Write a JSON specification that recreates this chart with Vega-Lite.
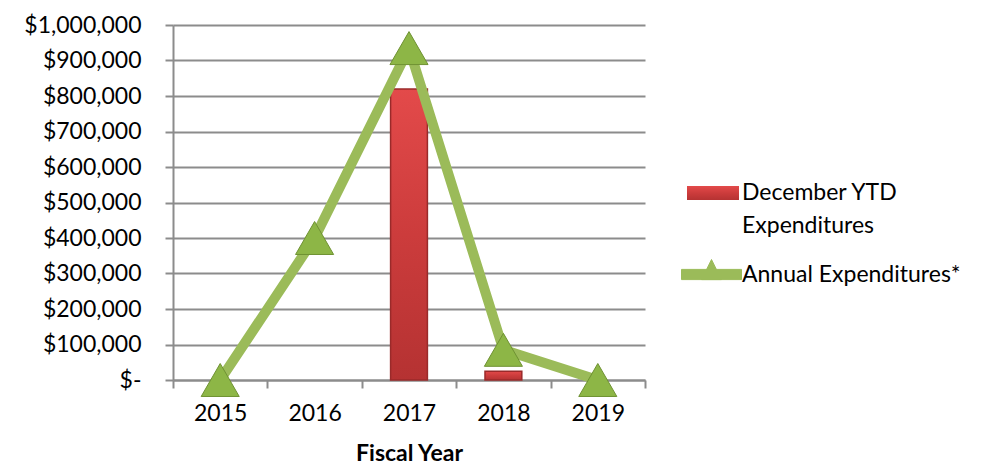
{
  "$schema": "https://vega.github.io/schema/vega-lite/v6.json",
  "width": 472,
  "height": 355,
  "autosize": {"type": "none"},
  "padding": {"left": 173, "top": 25, "right": 358, "bottom": 85},
  "background": "white",
  "config": {"view": {"stroke": null}, "font": "Lato", "style": {"guide-label": {"lineHeight": 33}}},
  "data": {
    "values": [
      {"year": "2015", "ytd": null, "annual": 0},
      {"year": "2016", "ytd": null, "annual": 400000},
      {"year": "2017", "ytd": 820000, "annual": 935000},
      {"year": "2018", "ytd": 25000, "annual": 85000},
      {"year": "2019", "ytd": null, "annual": 0}
    ]
  },
  "encoding": {
    "x": {
      "field": "year",
      "type": "ordinal",
      "scale": {"paddingInner": 0, "paddingOuter": 0},
      "axis": {
        "title": "Fiscal Year",
        "titleFont": "Lato",
        "titleFontSize": 23,
        "titleFontWeight": "bold",
        "titleColor": "#000000",
        "titlePadding": 17,
        "labelAngle": 0,
        "labelFont": "Lato",
        "labelFontSize": 23,
        "labelColor": "#000000",
        "labelPadding": 14,
        "labelOverlap": false,
        "tickBand": "extent",
        "tickSize": 8,
        "tickWidth": 2,
        "tickColor": "#8c8c8c",
        "domainColor": "#8c8c8c",
        "domainWidth": 2,
        "grid": false
      }
    }
  },
  "layer": [
    {
      "mark": {
        "type": "bar",
        "width": {"band": 0.39},
        "fill": {"gradient": "linear", "x1": 0, "y1": 0, "x2": 0, "y2": 1,
                 "stops": [{"offset": 0, "color": "#e34a4a"}, {"offset": 0.5, "color": "#cc3c3c"}, {"offset": 1, "color": "#b53232"}]},
        "stroke": "#9a2a2a",
        "strokeWidth": 1.5
      },
      "encoding": {
        "y": {
          "field": "ytd",
          "type": "quantitative",
          "title": null,
          "scale": {"domain": [0, 1000000]},
          "axis": {
            "values": [0, 100000, 200000, 300000, 400000, 500000, 600000, 700000, 800000, 900000, 1000000],
            "labelExpr": "datum.value == 0 ? '$-' : '$' + format(datum.value, ',')",
            "labelOverlap": false,
            "title": null,
            "grid": true,
            "gridColor": "#8c8c8c",
            "gridWidth": 2,
            "domainColor": "#8c8c8c",
            "domainWidth": 2,
            "tickColor": "#8c8c8c",
            "tickWidth": 2,
            "tickSize": 8,
            "labelPadding": 24,
            "labelFont": "Lato",
            "labelFontSize": 23,
            "labelColor": "#000000"
          }
        },
        "opacity": {
          "datum": "December YTD Expenditures",
          "scale": {"range": [1]},
          "legend": {
            "orient": "none",
            "legendX": 513,
            "legendY": 141,
            "title": null,
            "padding": 0,
            "symbolType": "M-1,-0.27H1V0.27H-1Z",
            "symbolSize": 2704,
            "symbolFillColor": "#c83a3a",
            "symbolStrokeColor": "#9a2a2a",
            "symbolStrokeWidth": 1.5,
            "labelFont": "Lato",
            "labelFontSize": 23,
            "labelColor": "#000000",
            "labelLimit": 300,
            "labelOffset": 2,
            "labelExpr": "datum.label == 'December YTD Expenditures' ? ['December YTD', 'Expenditures'] : datum.label"
          }
        }
      }
    },
    {
      "mark": {"type": "line", "strokeWidth": 10, "strokeJoin": "round"},
      "encoding": {
        "y": {
          "field": "annual",
          "type": "quantitative",
          "title": null,
          "axis": {
            "values": [0, 100000, 200000, 300000, 400000, 500000, 600000, 700000, 800000, 900000, 1000000],
            "labelExpr": "datum.value == 0 ? '$-' : '$' + format(datum.value, ',')",
            "labelOverlap": false,
            "title": null,
            "grid": true,
            "gridColor": "#8c8c8c",
            "gridWidth": 2,
            "domainColor": "#8c8c8c",
            "domainWidth": 2,
            "tickColor": "#8c8c8c",
            "tickWidth": 2,
            "tickSize": 8,
            "labelPadding": 24,
            "labelFont": "Lato",
            "labelFontSize": 23,
            "labelColor": "#000000"
          }
        },
        "stroke": {
          "datum": "Annual Expenditures*",
          "scale": {"range": ["#9bbb59"]},
          "legend": {
            "orient": "none",
            "legendX": 508,
            "legendY": 219,
            "title": null,
            "padding": 0,
            "symbolType": "M-1,-0.17H1V0.17H-1Z M0,-0.5L0.33,0.17H-0.33Z",
            "symbolSize": 3600,
            "symbolStrokeWidth": 1,
            "symbolFillColor": "#9bbb59",
            "labelFont": "Lato",
            "labelFontSize": 23,
            "labelColor": "#000000",
            "labelLimit": 300,
            "labelOffset": 0
          }
        }
      }
    },
    {
      "mark": {"type": "point", "shape": "triangle-up", "size": 1450, "filled": true, "fill": "#8db646", "stroke": "#6f9233", "strokeWidth": 1, "opacity": 1},
      "encoding": {
        "y": {
          "field": "annual",
          "type": "quantitative",
          "title": null,
          "axis": {
            "values": [0, 100000, 200000, 300000, 400000, 500000, 600000, 700000, 800000, 900000, 1000000],
            "labelExpr": "datum.value == 0 ? '$-' : '$' + format(datum.value, ',')",
            "labelOverlap": false,
            "title": null,
            "grid": true,
            "gridColor": "#8c8c8c",
            "gridWidth": 2,
            "domainColor": "#8c8c8c",
            "domainWidth": 2,
            "tickColor": "#8c8c8c",
            "tickWidth": 2,
            "tickSize": 8,
            "labelPadding": 24,
            "labelFont": "Lato",
            "labelFontSize": 23,
            "labelColor": "#000000"
          }
        }
      }
    }
  ]
}
